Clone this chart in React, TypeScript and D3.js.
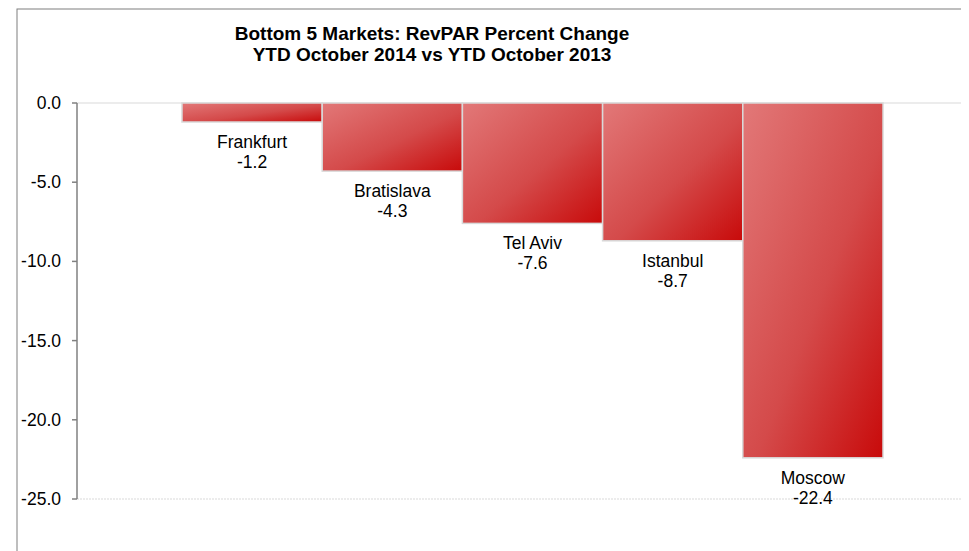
import React from "react";
import * as d3 from "d3";

const categories = ["Frankfurt", "Bratislava", "Tel Aviv", "Istanbul", "Moscow"];
const values = [-1.2, -4.3, -7.6, -8.7, -22.4];
const yTicks = [0, -5, -10, -15, -20, -25];
const titleLines = ["Bottom 5 Markets: RevPAR Percent Change", "YTD October 2014 vs YTD October 2013"];

const W = 961;
const H = 543;
// svg is offset by body margin (8,8)
const ox = 8, oy = 8;

export default function App() {
  const y = d3.scaleLinear().domain([0, -25]).range([103 - oy, 499 - oy]);
  const x = d3.scaleBand<string>().domain(categories).range([182 - ox, 883 - ox]).padding(0);
  const axisX = 77 - ox;
  const font = "'Liberation Sans', Arial, sans-serif";
  return (
    <svg width={W} height={H} style={{ display: "block" }} fontFamily={font}>
      <defs>
        <linearGradient id="barGrad" x1="0" y1="0" x2="1" y2="1">
          <stop offset="0%" stopColor="#e27878" />
          <stop offset="55%" stopColor="#d44a4a" />
          <stop offset="100%" stopColor="#c80a0a" />
        </linearGradient>
      </defs>
      <rect x={9} y={1} width={W + 20} height={H + 20} fill="white" stroke="#7f7f7f" strokeWidth={1} />
      <g fontWeight="bold" fontSize={19} textAnchor="middle" fill="#000">
        {titleLines.map((t, i) => (
          <text key={i} x={432 - ox} y={40 - oy + i * 21}>{t}</text>
        ))}
      </g>
      <line x1={axisX} x2={W} y1={y(0)} y2={y(0)} stroke="#d9d9d9" strokeWidth={1.2} />
      <line x1={axisX} x2={W} y1={y(-25)} y2={y(-25)} stroke="#d9d9d9" strokeWidth={1} strokeDasharray="2,1" />
      {categories.map((c, i) => {
        const v = values[i];
        const x0 = x(c)!;
        const bw = x.bandwidth();
        const yb = y(v);
        return (
          <g key={c}>
            <rect x={x0} y={y(0)} width={bw} height={yb - y(0)} fill="url(#barGrad)" stroke="#d9d9d9" strokeWidth={1.5} />
            <text x={x0 + bw / 2} y={yb + 26} textAnchor="middle" fontSize={17.5} fill="#000">{c}</text>
            <text x={x0 + bw / 2} y={yb + 46} textAnchor="middle" fontSize={17.5} fill="#000">{v.toFixed(1)}</text>
          </g>
        );
      })}
      <line x1={axisX} x2={axisX} y1={y(0)} y2={y(-25)} stroke="#808080" strokeWidth={1.5} />
      {yTicks.map((t) => (
        <g key={t}>
          <line x1={axisX - 5} x2={axisX} y1={y(t)} y2={y(t)} stroke="#808080" strokeWidth={1.5} />
          <text x={61 - ox} y={y(t) + 6} textAnchor="end" fontSize={17.5} fill="#000">{t.toFixed(1)}</text>
        </g>
      ))}
    </svg>
  );
}
